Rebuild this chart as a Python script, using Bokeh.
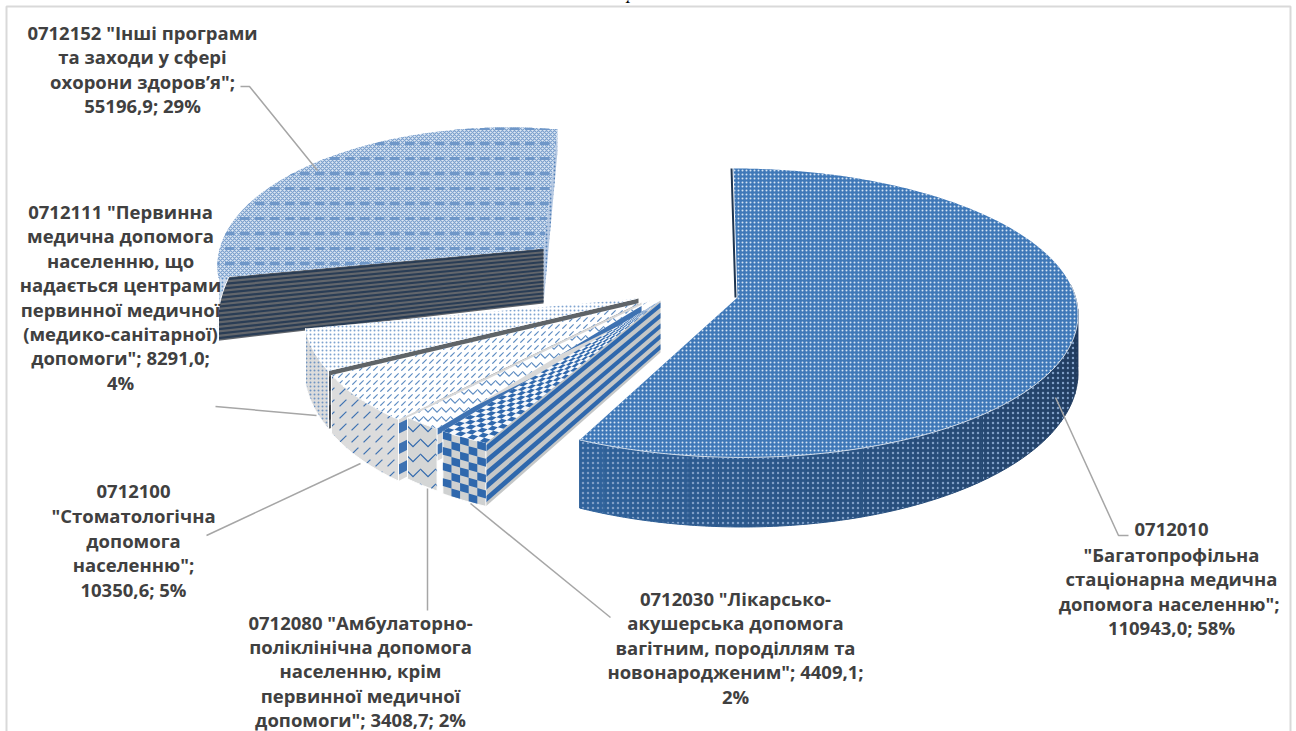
import numpy as np
from bokeh.plotting import figure
from bokeh.embed import file_html
from bokeh.resources import INLINE
from bokeh.core.properties import value

# ---------- data ----------
codes = ["0712010", "0712030", "0712080", "0712100", "0712111", "0712152"]
amounts = [110943.0, 4409.1, 3408.7, 10350.6, 8291.0, 55196.9]
label_lines = [
    ['0712010', '"Багатопрофільна', 'стаціонарна медична', 'допомога  населенню";', '110943,0; 58%'],
    ['0712030 "Лікарсько-', 'акушерська допомога', 'вагітним, породіллям та', 'новонародженим"; 4409,1;', '2%'],
    ['0712080 "Амбулаторно-', 'поліклінічна допомога', 'населенню, крім', 'первинної медичної', 'допомоги"; 3408,7; 2%'],
    ['0712100', '"Стоматологічна', 'допомога', 'населенню";', '10350,6; 5%'],
    ['0712111 "Первинна', 'медична допомога', 'населенню, що', 'надається центрами', 'первинної медичної', '(медико-санітарної)', 'допомоги"; 8291,0;', '4%'],
    ['0712152 "Інші програми', 'та заходи у сфері', 'охорони здоров’я";', '55196,9; 29%'],
]

# ---------- layout ----------
W, H = 1296, 731
label_pos = [(1171, 529, 24.6), (735, 598, 24.4), (360, 622, 24.2), (133, 491, 24.4), (120, 211, 24.4), (142, 32, 24.4)]
leaders = [
    ([1128, 1118, 1055], [535, 535, 397]),
    ([610, 470], [617, 503]),
    ([427, 427], [610, 488]),
    ([206, 360], [535, 463]),
    ([215, 316], [406, 415]),
    ([240, 249, 317], [86, 86, 170]),
]
apex = [(737, 297), (660, 300), (650, 300), (641, 302), (638, 298), (543, 248)]
depth = [57, 52, 52, 52, 52, 69]
slope = [0.08, 0.08, 0.08, 0.08, 0.08, 0.27]
radial = [1, 1.02, 1, 1, 1, 0.976]
styles = {
    0: dict(top=("#3f78b8", ".", "#d5e3f3", 4), outer=("#2B5585", ".", "#7f9fc6", 5)),
    1: dict(top=("#f7f9fc", None, "#2f68ad", 5), outer=("#cfd1d1", None, "#2f68ad", 10), wall=("#c5c7c7", "#2f68ad", 5)),
    2: dict(top=("#ffffff", "v", "#5f8dc2", 9), outer=("#d4d6d6", "v", "#2f68ad", 15)),
    3: dict(top=("#ffffff", ",", "#5f8dc2", 7), outer=("#dcdcdc", ",", "#3E72B2", 12), wall=("#d8d8d8", "#3E72B2", 3)),
    4: dict(top=("#ffffff", ".", "#7ea3cf", 4), outer=("#dcdcdc", ".", "#6f94c2", 4), wall=("#5f6468", "#3c4046", 2)),
    5: dict(top=("#dce7f4", "x", "#7ba0cc", 4), outer=("#ccd9ea", ".", "#5f8dc2", 4), wall=("#62666c", "#2a3d55", 14), end=("#b6c9e2", ".", "#4f7fb8", 4)),
}


def solve_h(src, dst):
    A = []
    for (x, y), (u, v) in zip(src, dst):
        A.append([x, y, 1, 0, 0, 0, -u * x, -u * y, -u])
        A.append([0, 0, 0, x, y, 1, -v * x, -v * y, -v])
    return np.linalg.svd(np.array(A, float))[2][-1].reshape(3, 3)


def unit(t):
    return (np.sin(np.radians(t)), np.cos(np.radians(t)))


# angular extents follow the amounts
shares = np.array(amounts) / sum(amounts)
edges = np.concatenate([[0], np.cumsum(shares) * 360])

BIG_WARP = 0.992
H_big = np.array([[338.0, -4.4, 0.0], [0.0, -142.8, 0.0], [0.0, 0.107, 1.0]])
H_rest = solve_h([(0, 0), unit(360), unit(edges[5]), unit(edges[3])],
                 [(0, 0), (14.3, -122), (-333, 30), (-243, 117)])


def proj(M, t):
    x, y = unit(t)
    q = M @ np.array([x, y, np.ones_like(x)])
    return q[0] / q[2], q[1] / q[2]


p = figure(width=W, height=H, x_range=(0, W), y_range=(H, 0), output_backend="svg",
           toolbar_location=None, min_border=0, outline_line_color=None)
p.axis.visible = False
p.grid.visible = False


def poly(xs, ys, st, lc=None):
    fill, hatch, col, scale = st
    kw = dict(hatch_pattern=hatch, hatch_color=col, hatch_scale=scale, hatch_weight=1.2) if hatch else {}
    p.patch(list(xs), list(ys), fill_color=fill, line_color=lc, **kw)


def checker(a, b, c, d, nu, nv, color):
    """alternate cells of the quad a-b (near edge) / d-c (far edge)"""
    a, b, c, d = map(np.array, (a, b, c, d))
    xs, ys = [], []
    for u in range(nu):
        for v in range(nv):
            if (u + v) % 2:
                continue
            cell = []
            for uu, vv in ((u, v), (u + 1, v), (u + 1, v + 1), (u, v + 1)):
                s, r = uu / nu, vv / nv
                cell.append((1 - r) * ((1 - s) * a + s * b) + r * ((1 - s) * d + s * c))
            cell = np.array(cell)
            xs.append(list(cell[:, 0]))
            ys.append(list(cell[:, 1]))
    p.patches(xs, ys, fill_color=color, line_color=None)


order = [5, 4, 3, 2, 1, 0]
for i in order:
    M = H_big if i == 0 else H_rest
    warp = BIG_WARP if i == 0 else 1
    ax, ay = apex[i]

    def drop(y, e=depth[i], sl=slope[i]):
        return y + e + (np.asarray(y, float) - 300) * sl

    ts = np.linspace(edges[i], edges[i + 1], max(8, int((edges[i + 1] - edges[i]) * 2)))
    rx, ry = proj(M, ts * warp)
    rx, ry = rx * radial[i] + ax, ry * radial[i] + ay
    st = styles[i]
    if i == 5:
        poly([ax, rx[-1], rx[-1], ax], [ay, ry[-1], drop(ry[-1]), drop(ay)], st["end"])
    if "wall" in st:
        base, stripe, count = st["wall"]
        ay2, ry2 = drop(ay), drop(ry[0])
        p.patch([ax, rx[0], rx[0], ax], [ay, ry[0], ry2, ay2], fill_color=base, line_color=None)
        for k in range(count):
            f0, f1 = (k + 0.2) / count, (k + 0.7) / count
            p.patch([ax, rx[0], rx[0], ax],
                    [ay + (ay2 - ay) * f0, ry[0] + (ry2 - ry[0]) * f0, ry[0] + (ry2 - ry[0]) * f1, ay + (ay2 - ay) * f1],
                    fill_color=stripe, line_color=None)
    # outer face
    if i == 0:
        idx = np.where(ts > 85)[0]
        steps = np.array_split(idx, 26)
        start = np.array([0x1f, 0x36, 0x56])
        end = np.array([0x2f, 0x62, 0x9b])
        for k, seg in enumerate(steps):
            seg = np.r_[seg, min(seg[-1] + 1, len(ts) - 1)]
            f = k / (len(steps) - 1)
            c = (start + (end - start) * f).astype(int)
            col = "#%02x%02x%02x" % tuple(c)
            poly(np.r_[rx[seg], rx[seg][::-1]], np.r_[ry[seg], drop(ry[seg])[::-1]],
                 (col, ".", st["outer"][2], st["outer"][3]), col)
    else:
        keep = ts < 300 if i == 5 else np.ones_like(ts, bool)
        poly(np.r_[rx[keep], rx[keep][::-1]], np.r_[ry[keep], drop(ry[keep])[::-1]], st["outer"], "#ffffff")
    if i == 1:
        checker((rx[-1], ry[-1]), (rx[0], ry[0]), (rx[0], drop(ry[0])), (rx[-1], drop(ry[-1])), 5, 8, "#2f68ad")
    if i == 0:
        p.line([ax - 2, rx[0] - 2], [ay, ry[0]], line_color="#1f3550", line_width=2)
    poly(np.r_[ax, rx], np.r_[ay, ry], st["top"])
    if i == 5:
        p.patch(list(np.r_[ax, rx]), list(np.r_[ay, ry]), fill_alpha=0, line_color=None,
                hatch_pattern='"', hatch_color="#6f97c8", hatch_scale=15, hatch_weight=3)
    if i == 1:
        checker((rx[-1], ry[-1]), (rx[0], ry[0]), (ax, ay), (ax, ay), 7, 40, "#2f68ad")
    if i == 0:
        k = ts > 85
        p.line(list(rx[k]), list(ry[k]), line_color="#d7e2ef", line_width=1)

# chart frame
p.line([6, 6, 1290, 1290], [731, 6, 6, 731], line_color="#d9d9d9", line_width=2)

# leaders
for xs, ys in leaders:
    p.line(xs, ys, line_color="#a6a6a6", line_width=1.5)

# labels
for lines, (cx, cy, step) in zip(label_lines, label_pos):
    p.text([cx] * len(lines), [cy + k * step for k in range(len(lines))], text=lines,
           text_font=value("Open Sans"), text_font_style="bold", text_font_size="18.5px",
           text_color="#404040", text_align="center", text_baseline="middle")

p.text([631], [-8], text=["р"], text_font=value("Liberation Serif"), text_font_style="italic",
       text_font_size="19px", text_color="#000000", text_align="center", text_baseline="alphabetic")

open("out.html", "w").write(file_html(p, INLINE))
